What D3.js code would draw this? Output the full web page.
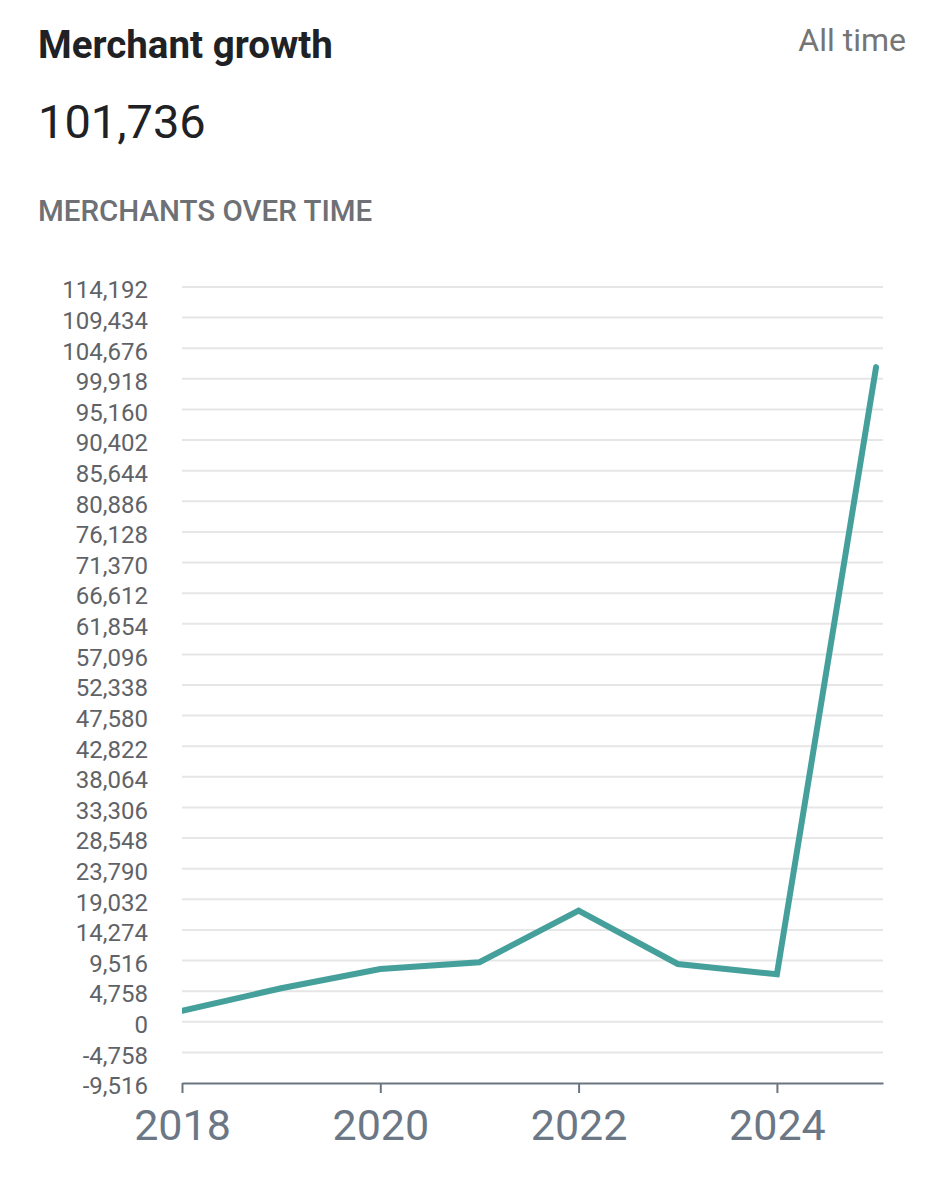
<!DOCTYPE html>
<html>
<head>
<meta charset="utf-8">
<script src="https://cdn.jsdelivr.net/npm/d3@7"></script>
<style>
  body { margin: 0; background: #fff; font-family: Roboto, "Noto Sans", sans-serif; }
</style>
</head>
<body>
<div id="chart"></div>
<script>
const years = [2018, 2019, 2020, 2021, 2022, 2023, 2024, 2025];
const merchants = [1720, 5200, 8200, 9250, 17260, 8980, 7380, 101736];
const yTicks = d3.range(-9516, 114192 + 1, 4758);
const xTicks = [2018, 2020, 2022, 2024];

const width = 944;
const height = 1200;
const margin = { left: 182, right: 61, top: 287, bottom: 117 };

const svg = d3.select('#chart')
  .append('svg')
  .attr('width', width)
  .attr('height', height);

// Header
svg.append('text')
  .attr('x', 38).attr('y', 58)
  .attr('font-size', '38.5px').attr('font-weight', 700)
  .attr('fill', '#202124')
  .text('Merchant growth');

svg.append('text')
  .attr('x', 906).attr('y', 51)
  .attr('text-anchor', 'end')
  .attr('font-size', '32px')
  .attr('fill', '#757575')
  .text('All time');

svg.append('text')
  .attr('x', 38).attr('y', 138)
  .attr('font-size', '47px')
  .attr('fill', '#202124')
  .text(d3.format(',')(merchants[merchants.length - 1]));

svg.append('text')
  .attr('x', 38).attr('y', 221)
  .attr('font-size', '29.5px').attr('font-weight', 500)
  .attr('fill', '#6d7075')
  .text('MERCHANTS OVER TIME');

// Scales
const x = d3.scaleLinear()
  .domain([2018, 2025.07])
  .range([margin.left, width - margin.right]);

const y = d3.scaleLinear()
  .domain([yTicks[0], yTicks[yTicks.length - 1]])
  .range([height - margin.bottom, margin.top]);

// Grid lines
svg.append('g')
  .selectAll('line')
  .data(yTicks.slice(1))
  .enter()
  .append('line')
  .attr('x1', x.range()[0])
  .attr('x2', x.range()[1])
  .attr('y1', d => y(d))
  .attr('y2', d => y(d))
  .attr('stroke', '#e6e6e6')
  .attr('stroke-width', 2);

// Y axis labels (plain hyphen for negatives, like the original)
const axisY = d3.axisLeft(y)
  .tickValues(yTicks)
  .tickSize(0)
  .tickPadding(34)
  .tickFormat(d => d3.format(',')(d).replace('\u2212', '-'));

const gy = svg.append('g')
  .attr('transform', 'translate(' + margin.left + ',0)')
  .call(axisY);
gy.select('.domain').remove();
gy.selectAll('text')
  .attr('font-family', 'Roboto, sans-serif')
  .attr('font-size', '24px')
  .attr('fill', '#5f6368')
  .attr('dy', '0.45em');

// X axis
const axisX = d3.axisBottom(x)
  .tickValues(xTicks)
  .tickSize(10)
  .tickSizeOuter(0)
  .tickPadding(16)
  .tickFormat(d3.format('d'));

const gx = svg.append('g')
  .attr('transform', 'translate(0,' + y(yTicks[0]) + ')')
  .call(axisX);
gx.select('.domain').attr('stroke', '#6b7580').attr('stroke-width', 2);
gx.selectAll('.tick line').attr('stroke', '#6b7580').attr('stroke-width', 2);
gx.selectAll('text')
  .attr('font-family', 'Roboto, sans-serif')
  .attr('font-size', '43px')
  .attr('fill', '#6b7785');

// Line
svg.append('clipPath')
  .attr('id', 'clip')
  .append('rect')
  .attr('x', margin.left).attr('y', 0)
  .attr('width', width - margin.left).attr('height', height);

const line = d3.line()
  .x((d, i) => x(years[i]))
  .y(d => y(d));

svg.append('path')
  .datum(merchants)
  .attr('clip-path', 'url(#clip)')
  .attr('d', line)
  .attr('fill', 'none')
  .attr('stroke', '#45a09c')
  .attr('stroke-width', 6)
  .attr('stroke-linecap', 'round');
</script>
</body>
</html>
